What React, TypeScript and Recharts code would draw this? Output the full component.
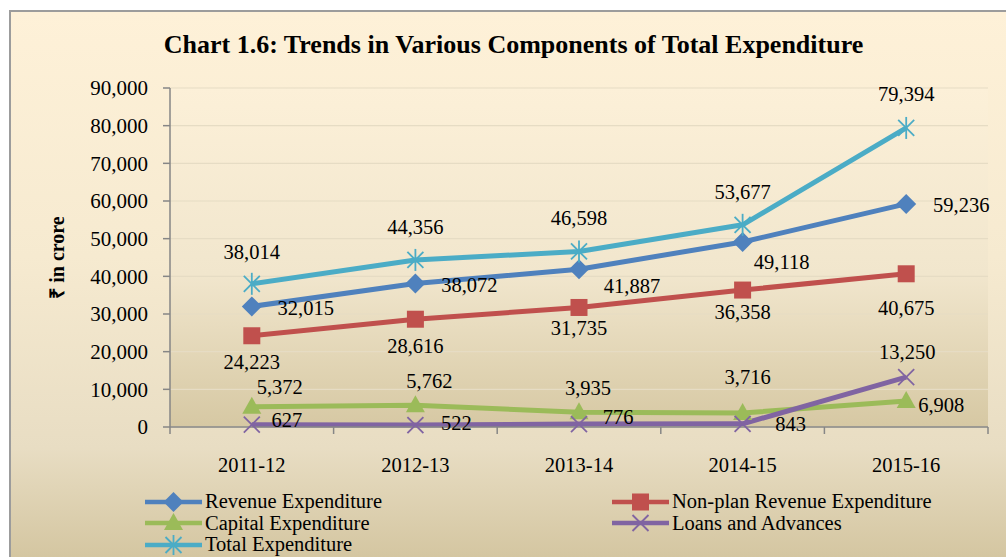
import React from 'react';
import { LineChart, Line, XAxis, YAxis, CartesianGrid, Legend, LabelList } from 'recharts';

// ---------- data ----------
const categories = ['2011-12', '2012-13', '2013-14', '2014-15', '2015-16'];
const revenueExpenditure = [32015, 38072, 41887, 49118, 59236];
const nonPlanRevenueExpenditure = [24223, 28616, 31735, 36358, 40675];
const capitalExpenditure = [5372, 5762, 3935, 3716, 6908];
const loansAndAdvances = [627, 522, 776, 843, 13250];
const totalExpenditure = [38014, 44356, 46598, 53677, 79394];
const yTicks = [0, 10000, 20000, 30000, 40000, 50000, 60000, 70000, 80000, 90000];

// ---------- label placement (offset of label centre from its point) ----------
const revLabelOffsets = [[54, 2], [54, 1], [53, 17], [39, 20], [55, 1]];
const nonPlanLabelOffsets = [[0, 26], [0, 27], [0, 21], [0, 22], [0, 34]];
const capitalLabelOffsets = [[28, -20], [14, -24], [9, -24], [5, -36], [35, 4]];
const loansLabelOffsets = [[35, -5], [41, -2], [39, -7], [48, 0], [1, -25]];
const totalLabelOffsets = [[0, -32], [0, -33], [0, -33], [0, -33], [0, -34]];

const FONT = '"Liberation Serif", "Times New Roman", Times, serif';

type Shape = 'diamond' | 'square' | 'triangle' | 'x' | 'star';

const series = [
  { key: 'rev', name: 'Revenue Expenditure', color: '#4F81BD', shape: 'diamond' as Shape, values: revenueExpenditure, offsets: revLabelOffsets },
  { key: 'nonplan', name: 'Non-plan Revenue Expenditure', color: '#C0504D', shape: 'square' as Shape, values: nonPlanRevenueExpenditure, offsets: nonPlanLabelOffsets },
  { key: 'capital', name: 'Capital Expenditure', color: '#9BBB59', shape: 'triangle' as Shape, values: capitalExpenditure, offsets: capitalLabelOffsets },
  { key: 'loans', name: 'Loans and Advances', color: '#8064A2', shape: 'x' as Shape, values: loansAndAdvances, offsets: loansLabelOffsets },
  { key: 'total', name: 'Total Expenditure', color: '#4BACC6', shape: 'star' as Shape, values: totalExpenditure, offsets: totalLabelOffsets },
];

const data = categories.map((c, i) => {
  const row: Record<string, string | number> = { category: c };
  series.forEach((s) => {
    row[s.key] = s.values[i];
  });
  return row;
});

const fmt = (v: number) => Number(v).toLocaleString('en-US');

function Marker({ cx, cy, shape, color }: { cx: number; cy: number; shape: Shape; color: string }) {
  switch (shape) {
    case 'diamond':
      return <polygon points={`${cx},${cy - 10} ${cx + 10},${cy} ${cx},${cy + 10} ${cx - 10},${cy}`} fill={color} />;
    case 'square':
      return <rect x={cx - 8.5} y={cy - 8.5} width={17} height={17} fill={color} />;
    case 'triangle':
      return <polygon points={`${cx},${cy - 10} ${cx + 9.5},${cy + 7} ${cx - 9.5},${cy + 7}`} fill={color} />;
    case 'x':
      return (
        <g stroke={color} strokeWidth={1.8}>
          <line x1={cx - 8} y1={cy - 8} x2={cx + 8} y2={cy + 8} />
          <line x1={cx - 8} y1={cy + 8} x2={cx + 8} y2={cy - 8} />
        </g>
      );
    case 'star':
    default:
      return (
        <g stroke={color} strokeWidth={1.8}>
          <line x1={cx - 8} y1={cy - 8} x2={cx + 8} y2={cy + 8} />
          <line x1={cx - 8} y1={cy + 8} x2={cx + 8} y2={cy - 8} />
          <line x1={cx} y1={cy - 11} x2={cx} y2={cy + 11} />
        </g>
      );
  }
}

const makeDot = (shape: Shape, color: string) => (p: any) => {
  if (p.cx == null || p.cy == null) return <g key={`d-${p.index}`} />;
  return (
    <g key={`dot-${shape}-${p.index}`}>
      <Marker cx={p.cx} cy={p.cy} shape={shape} color={color} />
    </g>
  );
};

const makeLabel = (offsets: number[][]) => (p: any) => {
  const x = p.x ?? p.viewBox?.x;
  const y = p.y ?? p.viewBox?.y;
  const idx = p.index ?? 0;
  if (x == null || y == null) return null;
  const [dx, dy] = offsets[idx] || [0, -25];
  return (
    <text
      key={`lbl-${idx}`}
      x={x + dx}
      y={y + dy}
      textAnchor="middle"
      dominantBaseline="central"
      fontFamily={FONT}
      fontSize={20.5}
      fill="#000"
    >
      {fmt(p.value)}
    </text>
  );
};

const XTick = (props: any) => {
  const { x, y, payload, index, visibleTicksCount } = props;
  const half = payload && payload.offset ? payload.offset : 81.8;
  const last = index === (visibleTicksCount ?? categories.length) - 1;
  return (
    <g>
      <line x1={x - half} y1={y} x2={x - half} y2={y + 7} stroke="#868686" strokeWidth={1.5} />
      {last && <line x1={x + half} y1={y} x2={x + half} y2={y + 7} stroke="#868686" strokeWidth={1.5} />}
      <text x={x} y={y + 45} textAnchor="middle" fontFamily={FONT} fontSize={20.5} fill="#000">
        {payload.value}
      </text>
    </g>
  );
};

const YTitle = (props: any) => {
  const vb = props.viewBox || { x: 0, y: 88, width: 170, height: 339 };
  const cx = vb.x + 57;
  const cy = vb.y + vb.height / 2;
  return (
    <text
      x={cx}
      y={cy}
      transform={`rotate(-90 ${cx} ${cy})`}
      textAnchor="middle"
      dominantBaseline="central"
      fontFamily={FONT}
      fontWeight="bold"
      fontSize={20}
      fill="#000"
    >
      ₹ in crore
    </text>
  );
};

const LegendContent = () => (
  <div
    style={{
      display: 'grid',
      gridTemplateColumns: '467px 390px',
      fontFamily: FONT,
      fontSize: 20.5,
      lineHeight: '21.5px',
      color: '#000',
      textAlign: 'left',
    }}
  >
    {series.map((s) => (
      <div key={s.key} style={{ display: 'flex', alignItems: 'center', height: 21.5, whiteSpace: 'nowrap' }}>
        <svg width={57} height={20} style={{ display: 'block' }}>
          <line x1={0} y1={10} x2={57} y2={10} stroke={s.color} strokeWidth={4.5} />
          <Marker cx={28.5} cy={10} shape={s.shape} color={s.color} />
        </svg>
        <span style={{ marginLeft: 3 }}>{s.name}</span>
      </div>
    ))}
  </div>
);

export default function App() {
  return (
    <div style={{ position: 'absolute', left: 0, top: 0, width: 1006, height: 557, overflow: 'hidden', background: '#fff' }}>
      <svg width={0} height={0} style={{ position: 'absolute' }}>
        <defs>
          <linearGradient id="plotGrad" x1="0" y1="0" x2="0" y2="1">
            <stop offset="0%" stopColor="#FCF0D8" />
            <stop offset="55%" stopColor="#F1E6CD" />
            <stop offset="100%" stopColor="#D6C8A3" />
          </linearGradient>
        </defs>
      </svg>
      <div
        style={{
          position: 'absolute',
          left: 9,
          top: 10,
          width: 1006 - 9,
          height: 557 - 10,
          borderLeft: '2px solid #9C9C9C',
          borderTop: '2px solid #9C9C9C',
          boxSizing: 'border-box',
          background: 'linear-gradient(to bottom, #FEF1D8 0%, #F6EAD0 45%, #E8DDC3 80%, #D4C6A1 100%)',
        }}
      />
      <div
        style={{
          position: 'absolute',
          left: 0,
          width: 1027,
          top: 29,
          textAlign: 'center',
          fontFamily: FONT,
          fontWeight: 'bold',
          fontSize: 26,
          lineHeight: '32px',
          color: '#000',
        }}
      >
        Chart 1.6: Trends in Various Components of Total Expenditure
      </div>
      <div style={{ position: 'absolute', left: 0, top: 0 }}>
        <LineChart width={1006} height={557} data={data} margin={{ top: 88, right: 18, bottom: 90, left: 0 }}>
          <CartesianGrid vertical={false} horizontal={true} stroke="#E6DCC4" strokeWidth={1.2} fill="url(#plotGrad)" fillOpacity={1} />
          <XAxis
            dataKey="category"
            scale="band"
            height={40}
            tickSize={0}
            tickMargin={0}
            tickLine={false}
            axisLine={{ stroke: '#868686', strokeWidth: 1.5 }}
            tick={<XTick />}
            interval={0}
          />
          <YAxis
            width={170}
            domain={[0, 90000]}
            ticks={yTicks}
            tickFormatter={fmt}
            tickSize={7}
            tickMargin={15}
            tickLine={{ stroke: '#868686', strokeWidth: 1.5 }}
            axisLine={{ stroke: '#868686', strokeWidth: 1.5 }}
            tick={{ fontFamily: FONT, fontSize: 21, fill: '#000' }}
            interval={0}
            label={{ content: <YTitle /> }}
          />
          <Legend
            layout="horizontal"
            verticalAlign="middle"
            align="center"
            content={<LegendContent />}
            wrapperStyle={{ position: 'absolute', left: 145, top: 491, width: 860 }}
          />
          {series.map((s) => (
            <Line
              key={s.key}
              type="linear"
              dataKey={s.key}
              name={s.name}
              stroke={s.color}
              strokeWidth={5}
              strokeLinejoin="round"
              dot={makeDot(s.shape, s.color)}
              activeDot={false}
              isAnimationActive={false}
            >
              <LabelList dataKey={s.key} content={makeLabel(s.offsets)} />
            </Line>
          ))}
        </LineChart>
      </div>
    </div>
  );
}
